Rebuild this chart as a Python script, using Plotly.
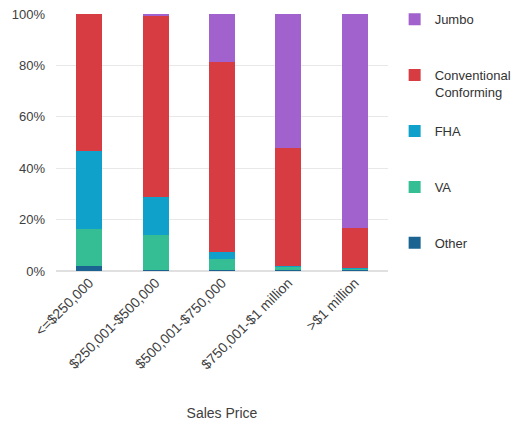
import plotly.graph_objects as go

categories = ["<=$250,000", "$250,001-$500,000", "$500,001-$750,000", "$750,001-$1 million", ">$1 million"]
other = [1.8, 0.3, 0.3, 0.2, 0.2]
va = [14.5, 13.7, 4.2, 1.5, 0.8]
fha = [30.5, 14.9, 3.0, 0.3, 0.2]
conventional = [53.2, 70.6, 74.0, 46.0, 15.4]
jumbo = [0.0, 0.5, 18.5, 52.0, 83.4]

series = [
    ("Other", other, "#1B6390", 5),
    ("VA", va, "#35BE94", 4),
    ("FHA", fha, "#0FA1C9", 3),
    ("Conventional", conventional, "#D63C42", 2),
    ("Jumbo", jumbo, "#A262CD", 1),
]

fig = go.Figure()
for name, vals, color, rank in series:
    fig.add_trace(go.Bar(
        x=categories, y=vals, name=name, legendgroup=name, legendrank=rank,
        marker=dict(color=color, line=dict(width=0)),
    ))

fig.add_annotation(
    text="Conforming", xref="paper", yref="paper",
    x=1.136, xanchor="left", y=(271 - 92) / 257, yanchor="middle",
    showarrow=False, font=dict(size=13, color="#333333"),
)

fig.update_layout(
    width=517, height=425,
    barmode="stack", bargap=0.61,
    plot_bgcolor="white", paper_bgcolor="white",
    font=dict(family="Liberation Sans, Arial, sans-serif", size=12, color="#404040"),
    margin=dict(l=56, r=129, t=14, b=154, autoexpand=False),
    legend=dict(
        x=1.02, xanchor="left", y=0.99, yanchor="top", yref="container",
        traceorder="grouped", tracegroupgap=36, maxheight=400,
        font=dict(size=13, color="#333333"),
        itemwidth=30,
    ),
    xaxis=dict(
        tickangle=-45, tickfont=dict(size=14, color="#404040"),
        title=dict(text="Sales Price", font=dict(size=14, color="#404040"), standoff=36),
        showline=False, ticks="",
    ),
    yaxis=dict(
        range=[0, 100], ticksuffix="%", dtick=20,
        tickfont=dict(size=13, color="#404040"),
        gridcolor="#E8E8E8", zerolinecolor="#E0E0E0",
        ticklabelstandoff=10,
    ),
)

fig.write_html("out.html")
